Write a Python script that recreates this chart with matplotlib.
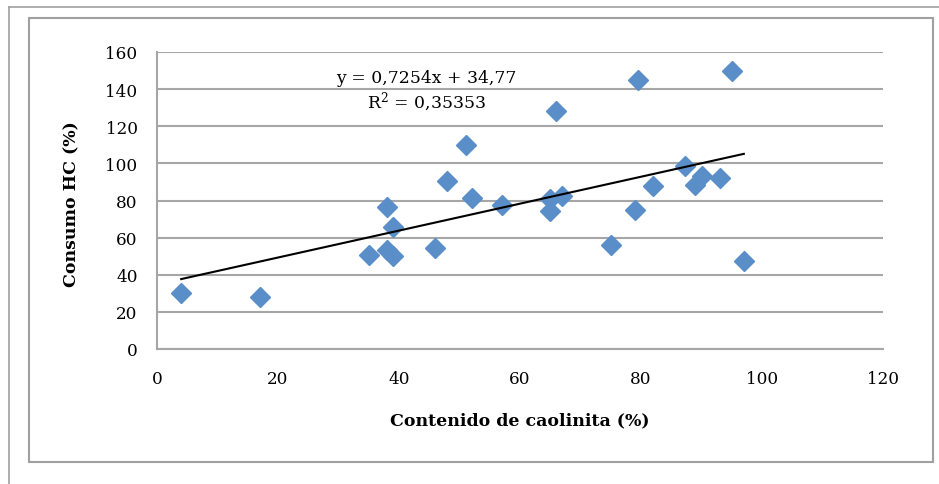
import matplotlib
matplotlib.use('Agg')
import matplotlib.pyplot as plt
from matplotlib.lines import Line2D
from matplotlib.patches import Rectangle

# caolinita (%) vs consumo HC (%)
caolinita = [4, 17, 35, 38, 38, 39, 39, 46, 48, 51, 52, 57, 65, 65, 66, 67,
             75, 79, 79.5, 82, 87.3, 89, 90, 93, 95, 97]
consumo_hc = [30, 28, 50.5, 76.5, 53.5, 65.5, 50, 54.5, 90.5, 110, 81.5, 77.5,
              81, 74.5, 128, 82.5, 56, 75, 145, 88, 98.5, 88.5, 93, 92, 149.5, 47.5]
slope = 0.7254
intercept = 34.77
eq_text = 'y = 0,7254x + 34,77'
r2_text = 'R$^2$ = 0,35353'
xticks = [0, 20, 40, 60, 80, 100, 120]
yticks = [0, 20, 40, 60, 80, 100, 120, 140, 160]

plt.rcParams['font.family'] = ['DejaVu Serif']
plt.rcParams['mathtext.fontset'] = 'dejavuserif'

fig = plt.figure(figsize=(9.39, 4.85), dpi=100)

# frames round the chart
fig.add_artist(Rectangle((29/939, 1-463/485), 904/939, 444/485, transform=fig.transFigure,
                         fill=False, edgecolor='#a0a0a0', linewidth=1.5))
fig.add_artist(Line2D([9/939, 9/939], [0, 1-8/485], transform=fig.transFigure, color='#a0a0a0', lw=1.2))
fig.add_artist(Line2D([9/939, 1], [1-8/485, 1-8/485], transform=fig.transFigure, color='#a0a0a0', lw=1.2))

ax = fig.add_axes([157/939, 1-350/485, 726/939, 297/485])
ax.set_xlim(0, 120)
ax.set_ylim(0, 160)
ax.set_xticks(xticks)
ax.set_yticks(yticks)
ax.tick_params(length=0, labelsize=12.2)
ax.tick_params(axis='y', pad=14)
ax.tick_params(axis='x', pad=15)
ax.yaxis.grid(True, color='#a6a6a6', linewidth=1.5)
ax.set_axisbelow(True)
for s in ['top', 'right']:
    ax.spines[s].set_visible(False)
for s in ['left', 'bottom']:
    ax.spines[s].set_color('#a6a6a6')
    ax.spines[s].set_linewidth(1.5)

ax.plot(caolinita, consumo_hc, linestyle='none', marker='D', markersize=10,
        color='#5a8ec8', clip_on=False, zorder=3)

x0, x1 = min(caolinita), max(caolinita)
ax.plot([x0, x1], [slope*x0 + intercept, slope*x1 + intercept], color='black', lw=1.5, zorder=4)

ax.text(44.5, 146.5, eq_text, ha='center', va='center', fontsize=12.4)
ax.text(44.5, 133.5, r2_text, ha='center', va='center', fontsize=12.4)

ax.set_xlabel('Contenido de caolinita (%)', fontsize=12.5, fontweight='bold')
ax.set_ylabel('Consumo HC (%)', fontsize=12.5, fontweight='bold')
ax.xaxis.set_label_coords(0.5, -0.209)
ax.yaxis.set_label_coords(-0.106, 0.49)

fig.savefig('out.png', dpi=100)
